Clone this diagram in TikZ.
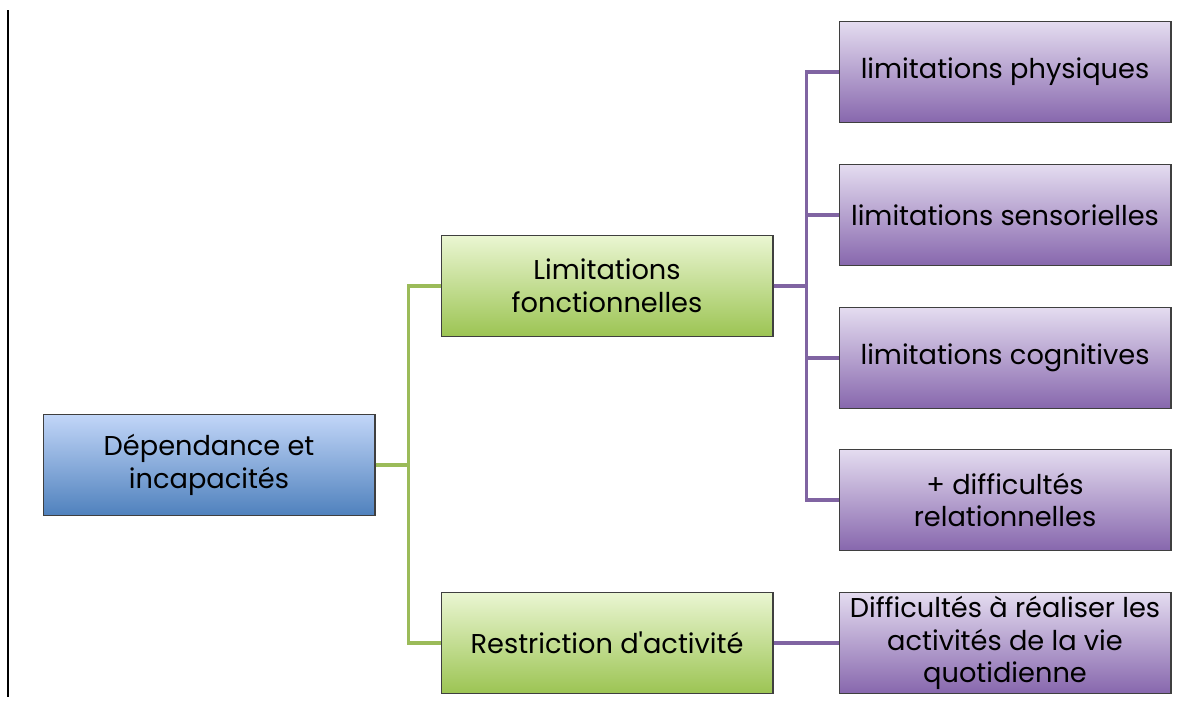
\documentclass[tikz,border=0pt]{standalone}
\usepackage{fontspec}
\setmainfont{Poppins}
\usepackage{tikz}
\usetikzlibrary{calc}
\definecolor{boxline}{HTML}{3F3F3F}
\definecolor{greenline}{HTML}{9BBB59}
\definecolor{purpleline}{HTML}{8064A2}
\definecolor{bluetop}{HTML}{C2D6F8}
\definecolor{bluebottom}{HTML}{4F81BD}
\definecolor{greentop}{HTML}{EAF6D2}
\definecolor{greenbottom}{HTML}{9CC453}
\definecolor{purpletop}{HTML}{E4DCF0}
\definecolor{purplebottom}{HTML}{8767AD}
\tikzset{
  box/.style={draw=boxline, line width=0.6pt, rectangle, minimum width=6.64cm,
    minimum height=2.02cm, align=center, inner sep=2pt,
    font=\fontsize{15.5}{18.5}\selectfont, text=black},
  bluebox/.style={box, top color=bluetop, bottom color=bluebottom},
  greenbox/.style={box, top color=greentop, bottom color=greenbottom},
  purplebox/.style={box, top color=purpletop, bottom color=purplebottom},
  greenconn/.style={draw=greenline, line width=2pt},
  purpleconn/.style={draw=purpleline, line width=2pt}
}

\begin{document}
\begin{tikzpicture}[x=0.02cm,y=-0.02cm]
          \useasboundingbox (0,0) rectangle (1179,707);
          \draw[black, line width=1.2pt] (8,10) -- (8,697);

          \node[bluebox] (Root) at (209,465) {Dépendance et\\incapacités};
          \node[greenbox] (Limitations) at (607,286) {Limitations\\fonctionnelles};
          \node[greenbox] (Restriction) at (607,643) {Restriction d\textquotesingle activité};

          \node[purplebox] (Physiques) at (1005,72) {limitations physiques};
          \node[purplebox] (Sensorielles) at (1005,215) {limitations sensorielles};
          \node[purplebox] (Cognitives) at (1005,358) {limitations cognitives};
          \node[purplebox] (Relationnelles) at (1005,500) {+ difficultés\\relationnelles};
          \node[purplebox] (Quotidienne) at (1005,643) {Difficultés à réaliser les\\activités de la vie\\quotidienne};

          \draw[greenconn] (Root.east) -- ++(33,0) |- (Limitations.west);
          \draw[greenconn] (Root.east) -- ++(33,0) |- (Restriction.west);

          \draw[purpleconn] (Limitations.east) -- ++(33,0) |- (Physiques.west);
          \draw[purpleconn] (Limitations.east) -- ++(33,0) |- (Sensorielles.west);
          \draw[purpleconn] (Limitations.east) -- ++(33,0) |- (Cognitives.west);
          \draw[purpleconn] (Limitations.east) -- ++(33,0) |- (Relationnelles.west);
          \draw[purpleconn] (Restriction) to (Quotidienne);
        \end{tikzpicture}
\end{document}
